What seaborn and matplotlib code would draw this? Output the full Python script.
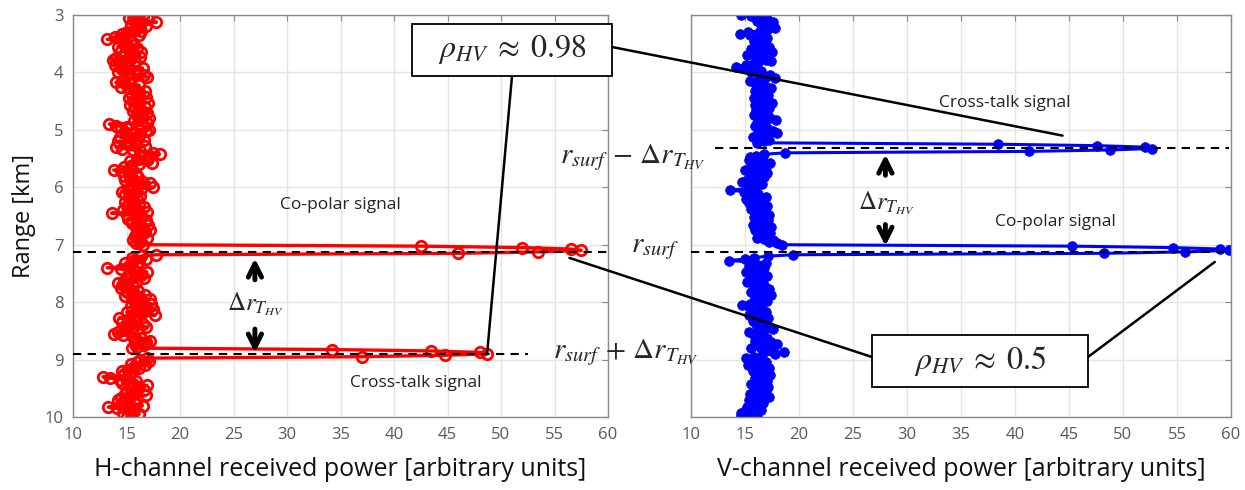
import numpy as np
import pandas as pd
import matplotlib
matplotlib.use('Agg')
import matplotlib.pyplot as plt
from matplotlib.patches import ConnectionPatch, Rectangle
import seaborn as sns


# range gates [km], 25 m spacing
range_km = np.round(np.arange(3.0, 10.0001, 0.025), 3)

# H-channel received power
h_power = [
    15.8, 16.5, 15.2, 17.0, 16.2, 17.8, 16.0, 15.4, 16.8, 16.1,
    15.9, 16.4, 15.0, 14.6, 16.2, 13.9, 14.3, 13.2, 14.8, 15.5,
    14.8, 15.6, 14.2, 16.0, 15.1, 14.5, 16.4, 15.7, 14.9, 16.3,
    14.0, 13.7, 14.6, 15.8, 14.3, 13.9, 15.2, 16.5, 14.7, 15.9,
    14.2, 15.0, 16.6, 16.9, 15.4, 14.8, 14.6, 14.0, 15.3, 16.2,
    14.5, 15.1, 15.8, 16.7, 15.9, 16.2, 15.5, 16.8, 15.2, 16.0,
    15.6, 17.0, 16.1, 15.3, 16.7, 15.8, 16.4, 15.6, 16.9, 16.3,
    16.0, 16.5, 17.1, 16.2, 15.7, 16.9, 13.4, 14.0, 15.0, 14.5,
    17.1, 16.8, 15.8, 16.3, 15.0, 14.4, 15.5, 16.6, 14.2, 15.3,
    15.9, 16.7, 14.0, 14.6, 15.6, 16.3, 17.5, 18.1, 17.2, 16.4,
    16.0, 16.9, 15.3, 17.4, 16.2, 15.4, 14.8, 15.5, 13.8, 14.5,
    15.2, 15.9, 14.8, 16.1, 15.3, 14.9, 16.5, 17.2, 16.0, 15.6,
    17.5, 16.4, 15.1, 14.6, 15.8, 14.9, 16.3, 15.2, 16.0, 15.5,
    14.9, 15.6, 16.2, 15.0, 16.6, 15.7, 14.7, 16.9, 13.6, 15.0,
    15.8, 16.4, 15.1, 16.8, 16.0, 15.5, 17.0, 16.2, 15.9, 16.6,
    17.2, 16.7, 16.0, 16.4, 15.8, 16.9, 16.1, 15.6, 16.3, 15.9,
    16.5, 42.5, 52.0, 56.5, 57.5, 53.5, 46.0, 17.8, 16.4, 15.5,
    16.8, 15.6, 16.2, 14.9, 15.3, 16.0, 13.2, 14.5, 15.7, 16.9,
    15.2, 16.4, 15.8, 16.6, 15.1, 14.8, 15.9, 14.2, 14.7, 15.6,
    14.5, 15.3, 16.1, 15.0, 15.7, 16.7, 14.9, 15.5, 17.2, 16.3,
    15.8, 17.3, 16.6, 15.4, 16.9, 17.5, 16.2, 15.0, 16.4, 17.7,
    16.1, 14.3, 15.2, 15.9, 14.6, 16.5, 15.3, 16.8, 15.6, 14.9,
    15.4, 14.2, 13.8, 14.7, 15.6, 16.4, 15.9, 17.2, 16.8, 15.8,
    16.6, 16.0, 15.5, 34.2, 43.5, 48.0, 48.7, 44.8, 37.0, 16.9,
    16.3, 17.1, 16.0, 15.4, 16.7, 15.8, 16.2, 15.1, 14.6, 15.5,
    14.8, 15.2, 12.8, 13.5, 14.4, 15.9, 14.6, 15.6, 16.9, 16.2,
    15.4, 16.6, 15.0, 15.8, 14.9, 16.8, 15.3, 14.5, 14.2, 15.7,
    14.8, 15.9, 16.5, 13.3, 14.1, 15.2, 15.6, 14.7, 16.2, 15.5, 15.0,
]

# V-channel received power
v_power = [
    14.6, 15.6, 16.3, 17.0, 16.1, 17.6, 16.5, 17.3, 16.8, 17.8,
    17.1, 16.4, 15.3, 14.5, 15.5, 16.2, 17.0, 16.0, 15.8, 16.7,
    15.9, 16.5, 17.2, 16.3, 15.6, 16.8, 17.5, 16.1, 15.2, 16.6,
    16.0, 16.9, 17.4, 16.2, 15.7, 15.1, 14.2, 14.9, 15.8, 16.5,
    15.6, 16.4, 17.3, 16.9, 17.8, 16.2, 15.5, 16.3, 16.8, 16.0,
    16.6, 17.4, 16.7, 15.9, 16.5, 16.1, 17.1, 16.4, 15.8, 16.2,
    16.9, 17.5, 16.3, 15.9, 16.6, 17.2, 16.0, 16.5, 17.0, 16.2,
    15.8, 16.4, 17.3, 17.9, 16.6, 16.1, 16.8, 15.9, 16.5, 17.0,
    16.2, 17.6, 18.0, 16.9, 16.4, 15.7, 16.3, 17.2, 16.8, 16.1,
    38.4, 47.6, 52.0, 52.7, 48.8, 41.3, 18.7, 16.8, 16.0, 15.5,
    16.2, 15.4, 16.7, 17.3, 16.0, 15.6, 16.9, 15.8, 15.0, 16.4,
    17.0, 16.3, 15.5, 16.8, 16.1, 15.2, 14.7, 15.9, 16.6, 15.4,
    16.0, 15.3, 13.6, 14.9, 15.6, 16.2, 15.7, 16.9, 15.1, 15.8,
    16.5, 15.4, 16.1, 17.0, 16.3, 15.6, 16.7, 15.9, 16.4, 17.2,
    16.6, 15.8, 16.3, 17.1, 16.0, 16.8, 15.7, 16.5, 17.4, 16.2,
    15.9, 16.7, 17.3, 16.4, 17.0, 16.1, 16.8, 17.6, 17.2, 18.0,
    18.4, 45.3, 54.6, 59.0, 59.8, 55.7, 48.2, 19.4, 17.1, 15.8,
    15.0, 13.5, 15.6, 16.9, 16.2, 15.4, 16.8, 15.9, 16.3, 15.1,
    15.7, 16.4, 17.0, 16.1, 15.5, 16.6, 15.2, 16.0, 16.8, 15.8,
    16.5, 17.2, 16.3, 15.6, 16.1, 17.4, 16.7, 15.9, 16.4, 17.0,
    16.2, 15.5, 14.7, 15.3, 16.0, 16.6, 15.8, 16.9, 16.1, 15.4,
    16.3, 17.1, 16.5, 15.7, 16.8, 16.0, 16.4, 17.3, 16.9, 17.6,
    16.1, 15.4, 16.6, 15.8, 16.2, 17.0, 16.5, 15.9, 17.4, 18.0,
    17.2, 16.4, 15.6, 16.8, 17.5, 18.6, 17.8, 16.6, 15.8, 15.1,
    15.5, 16.2, 16.9, 16.0, 15.3, 16.6, 17.2, 16.4, 15.7, 16.1,
    16.8, 17.3, 16.5, 15.9, 16.7, 17.0, 16.2, 15.6, 16.4, 17.1,
    16.3, 15.8, 16.9, 16.1, 15.5, 16.6, 17.2, 16.0, 15.4, 16.2,
    16.7, 15.9, 16.4, 15.2, 15.8, 16.5, 15.0, 14.6, 15.3, 14.6, 16.1,
]

r_surf = 7.12          # surface range [km]
r_xtalk_h = 8.91       # H cross-talk range
r_xtalk_v = 5.31       # V cross-talk range

df_h = pd.DataFrame({'range': range_km, 'power': h_power})
df_v = pd.DataFrame({'range': range_km, 'power': v_power})

sns.set_style('whitegrid')
plt.rcParams['font.family'] = ['Open Sans', 'DejaVu Sans']
plt.rcParams['mathtext.fontset'] = 'stix'

W, H = 1245, 490
fig = plt.figure(figsize=(W / 100, H / 100), dpi=100)
ax1 = fig.add_axes([73 / W, 1 - 417 / H, 535 / W, 402 / H])
ax2 = fig.add_axes([691 / W, 1 - 417 / H, 540 / W, 402 / H])

sns.lineplot(data=df_h, x='power', y='range', orient='y', ax=ax1, color='red',
             lw=2.4, marker='o', markersize=7.5, markerfacecolor='none',
             markeredgecolor='red', markeredgewidth=2)
sns.lineplot(data=df_v, x='power', y='range', orient='y', ax=ax2, color='blue',
             lw=2.2, marker='o', markersize=7, markerfacecolor='blue',
             markeredgecolor='blue', markeredgewidth=0.5)

for ax in (ax1, ax2):
    ax.set_xlim(10, 60)
    ax.set_ylim(10, 3)
    ax.set_xticks(np.arange(10, 61, 5))
    ax.set_yticks(np.arange(3, 11, 1))
    ax.grid(True, color='#e4e4e4', lw=1)
    for s in ax.spines.values():
        s.set_color('#8a8a8a')
        s.set_linewidth(1)
    ax.tick_params(labelsize=12, colors='#8a8a8a', labelcolor='#595959',
                   direction='in', length=4, pad=7, right=True, top=True)

ax1.set_ylabel('Range [km]', fontsize=17, color='#111111', labelpad=6)
ax1.set_xlabel('H-channel received power [arbitrary units]', fontsize=18, color='#111111', labelpad=10)
ax2.set_ylabel('')
ax2.set_yticklabels([])
ax2.set_xlabel('V-channel received power [arbitrary units]', fontsize=18, color='#111111', labelpad=10)

dash = dict(color='black', lw=1.5, ls=(0, (4, 3)), clip_on=False, zorder=5)
ax1.plot([10, 60.4], [r_surf, r_surf], **dash)
ax1.plot([10, 52.5], [r_xtalk_h, r_xtalk_h], **dash)
ax2.plot([10, 60], [r_surf, r_surf], **dash)
ax2.plot([12.2, 59.8], [r_xtalk_v, r_xtalk_v], **dash)

# delta-r arrows
arr = dict(arrowstyle='->', lw=3.5, color='black', mutation_scale=24)
ax1.annotate('', xy=(27, 7.19), xytext=(27, 7.66), arrowprops=arr)
ax1.annotate('', xy=(27, 8.93), xytext=(27, 8.42), arrowprops=arr)
ax2.annotate('', xy=(28, 5.38), xytext=(28, 5.84), arrowprops=arr)
ax2.annotate('', xy=(28, 7.07), xytext=(28, 6.60), arrowprops=arr)

dr = r'$\Delta r_{T_{HV}}$'
ax1.text(27, 8.04, dr, fontsize=18, ha='center', va='center')
ax2.text(28.1, 6.27, dr, fontsize=18, ha='center', va='center')

lbl = dict(fontsize=12.5, color='#222222', ha='center', va='center')
ax1.text(35, 6.3, 'Co-polar signal', **lbl)
ax1.text(42, 9.4, 'Cross-talk signal', **lbl)
ax2.text(39.1, 4.53, 'Cross-talk signal', **lbl)
ax2.text(43.7, 6.6, 'Co-polar signal', **lbl)

fig.text(633 / W, 1 - 158 / H, r'$r_{surf}\,-\,\Delta r_{T_{HV}}$', fontsize=21, ha='center', va='center')
fig.text(655 / W, 1 - 248 / H, r'$r_{surf}$', fontsize=21, ha='center', va='center')
fig.text(626 / W, 1 - 353 / H, r'$r_{surf}\,+\,\Delta r_{T_{HV}}$', fontsize=21, ha='center', va='center')

# correlation boxes (pixel extents of the reference)
boxes = [((412, 24, 612, 76), r'$\rho_{HV}\;\approx\;0.98$'),
         ((872, 335, 1088, 387), r'$\rho_{HV}\;\approx\;0.5$')]
for (x0, y0, x1, y1), txt in boxes:
    fig.add_artist(Rectangle((x0 / W, 1 - y1 / H), (x1 - x0) / W, (y1 - y0) / H,
                             transform=fig.transFigure, fc='white', ec='black',
                             lw=1.3, zorder=10))
    fig.text((x0 + x1) / 2 / W, 1 - (y0 + y1) / 2 / H, txt, fontsize=23,
             ha='center', va='center', zorder=11)

links = [((612, 47), ax2, (44.4, 5.10)),
         ((512, 76), ax1, (48.7, 8.90)),
         ((872, 357), ax1, (56.4, 7.23)),
         ((1088, 357), ax2, (58.5, 7.30))]
for (px, py), ax, xy in links:
    cp = ConnectionPatch(xyA=(px / W, 1 - py / H), coordsA='figure fraction',
                         xyB=xy, coordsB=ax.transData, color='black', lw=1.8, zorder=9)
    fig.add_artist(cp)

fig.savefig('out.png', dpi=100)
